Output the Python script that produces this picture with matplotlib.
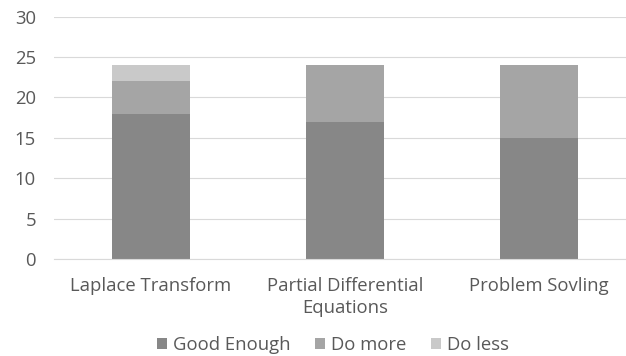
import numpy as np
import matplotlib.pyplot as plt

# données du sondage
categories = ["Laplace Transform", "Partial Differential\nEquations", "Problem Sovling"]
good_enough = [18, 17, 15]
do_more = [4, 7, 9]
do_less = [2, 0, 0]
series_names = ["Good Enough", "Do more", "Do less"]
colors = ["#878787", "#a5a5a5", "#c9c9c9"]
text_col = "#595959"

plt.rcParams['font.family'] = ['Open Sans', 'DejaVu Sans']

fig = plt.figure(figsize=(6.26, 3.56), dpi=100)
ax = fig.add_axes([54 / 626, 0.2725, 572 / 626, 0.6805])

x = np.arange(len(categories))
bottom = np.zeros(len(categories))
for vals, name, c in zip([good_enough, do_more, do_less], series_names, colors):
    ax.bar(x, vals, 0.40, bottom=bottom, color=c, label=name, zorder=2)
    bottom += np.array(vals)

ax.set_ylim(0, 30)
ax.set_yticks(range(0, 31, 5))
ax.set_xlim(-0.5, 2.448)
ax.set_xticks(x)
ax.set_xticklabels(categories, color=text_col, fontsize=13.3, linespacing=1.3)
ax.tick_params(axis='y', colors=text_col, labelsize=13.3, length=0, pad=13)
ax.tick_params(axis='x', length=0, pad=13)
ax.grid(axis='y', color="#d9d9d9", linewidth=0.8, zorder=0)
for s in ["top", "right", "left"]:
    ax.spines[s].set_visible(False)
ax.spines["bottom"].set_color("#d9d9d9")

# légende en bas
leg = fig.legend(loc="center", bbox_to_anchor=(333 / 626, 1 - 345 / 356), ncol=3, frameon=False,
                 fontsize=13.3, handlelength=0.55, handleheight=0.55, columnspacing=1.3, handletextpad=0.35)
for t in leg.get_texts():
    t.set_color(text_col)

fig.savefig("out.png", dpi=100)
